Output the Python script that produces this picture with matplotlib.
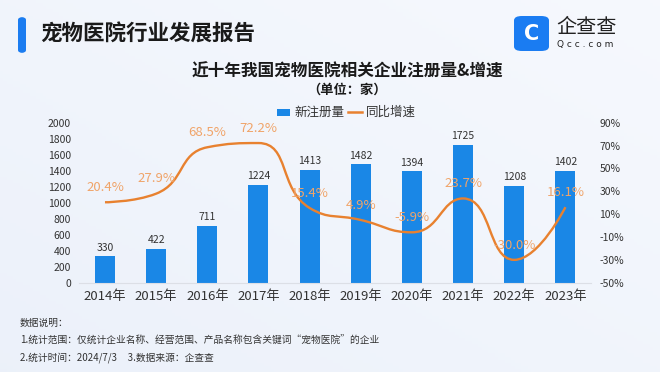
import numpy as np
import matplotlib.pyplot as plt
from matplotlib.path import Path
from matplotlib.patches import PathPatch, FancyBboxPatch, Rectangle
from matplotlib.lines import Line2D

plt.rcParams['font.family'] = ['Noto Sans CJK SC', 'DejaVu Sans']

years = ['2014年', '2015年', '2016年', '2017年', '2018年', '2019年', '2020年', '2021年', '2022年', '2023年']
counts = [330, 422, 711, 1224, 1413, 1482, 1394, 1725, 1208, 1402]
growth = [20.4, 27.9, 68.5, 72.2, 15.4, 4.9, -5.9, 23.7, -30.0, 16.1]

bar_c = '#1a87e6'
line_c = '#e8812f'
lab_c = '#f0a469'
txt_c = '#333333'

fig = plt.figure(figsize=(6.6, 3.72), dpi=100)

# background
bg = fig.add_axes([0, 0, 1, 1], zorder=-10)
gx, gy = np.meshgrid(np.linspace(0, 1, 200), np.linspace(0, 1, 120))
g = 0.5 * gx + 0.5 * gy
c0 = np.array([0.925, 0.945, 0.98])
c1 = np.array([0.965, 0.975, 0.995])
img = c0[None, None, :] * (1 - g[..., None]) + c1[None, None, :] * g[..., None]
bg.imshow(img, extent=[0, 1, 0, 1], aspect='auto', origin='lower')
bg.set_xlim(0, 1)
bg.set_ylim(0, 1)
bg.axis('off')

# header
bg.add_patch(FancyBboxPatch((18 / 660, 1 - 53 / 372), 8 / 660, 36 / 372,
                            boxstyle='round,pad=0,rounding_size=0.008',
                            fc='#1b7cf0', ec='none', transform=fig.transFigure))
fig.text(40 / 660, 1 - 34 / 372, '宠物医院行业发展报告', fontsize=15.5, fontweight='bold',
         color='#1a1a1a', va='center', ha='left')

# logo
bg.add_patch(FancyBboxPatch((514 / 660, 1 - 51 / 372), 35 / 660, 35 / 372,
                            boxstyle='round,pad=0,rounding_size=0.012',
                            fc='#1a7cf2', ec='none', transform=fig.transFigure))
fig.text(531.5 / 660, 1 - 33.5 / 372, 'C', fontsize=15, fontweight='bold', color='white',
         ha='center', va='center', family='DejaVu Sans')
fig.text(556 / 660, 1 - 27 / 372, '企查查', fontsize=14.5, color='#222222', ha='left', va='center')
fig.text(557 / 660, 1 - 45 / 372, 'Q c c . c o m', fontsize=6.5, color='#222222', ha='left', va='center',
         family='DejaVu Sans')

# titles
fig.text(347 / 660, 1 - 72 / 372, '近十年我国宠物医院相关企业注册量&增速', fontsize=12,
         fontweight='bold', color='#1a1a1a', ha='center', va='center')
fig.text(347 / 660, 1 - 90 / 372, '（单位：家）', fontsize=9.5, fontweight='bold',
         color='#1a1a1a', ha='center', va='center')

# legend
fig.patches.append(Rectangle((277 / 660, 1 - 115.5 / 372), 13 / 660, 7 / 372, fc=bar_c, ec='none',
                             transform=fig.transFigure, figure=fig))
fig.text(294 / 660, 1 - 112 / 372, '新注册量', fontsize=9, color=txt_c, ha='left', va='center')
fig.lines.append(Line2D([348 / 660, 362 / 660], [1 - 112 / 372] * 2, color=line_c, lw=1.8,
                        transform=fig.transFigure, figure=fig))
fig.text(366 / 660, 1 - 112 / 372, '同比增速', fontsize=9, color=txt_c, ha='left', va='center')

# main axes
ax = fig.add_axes([79.4 / 660, 1 - 282.7 / 372, (591 - 79.4) / 660, 160 / 372])
ax.patch.set_alpha(0)
x = np.arange(len(years))
ax.bar(x, counts, width=0.39, color=bar_c, zorder=2)
for xi, v in zip(x, counts):
    ax.text(xi, v + 45, str(v), ha='center', va='bottom', fontsize=7.5, color=txt_c)
ax.set_xlim(-0.5, len(years) - 0.5)
ax.set_ylim(0, 2000)
ax.set_yticks(np.arange(0, 2001, 200))
ax.set_xticks(x)
ax.set_xticklabels(years, fontsize=9.5, color=txt_c)
ax.tick_params(axis='y', length=0, labelsize=7.5, labelcolor=txt_c, pad=6)
ax.tick_params(axis='x', length=0, pad=5)
for s in ['top', 'right', 'left']:
    ax.spines[s].set_visible(False)
ax.spines['bottom'].set_color('#dcdfe6')

ax2 = ax.twinx()
ax2.set_ylim(-50, 90)
ax2.set_yticks(np.arange(-50, 91, 20))
ax2.set_yticklabels([f'{t}%' for t in range(-50, 91, 20)])
ax2.tick_params(axis='y', length=0, labelsize=7.5, labelcolor=txt_c, pad=6)
for s in ax2.spines.values():
    s.set_visible(False)

# smooth line, bezier with control points clamped between neighbours
pts = ax2.transData.transform(np.column_stack([x, growth]))
n = len(pts)
sm = 0.5
verts = [pts[0]]
codes = [Path.MOVETO]
cp0 = pts[0].copy()
for i in range(1, n):
    px, py = pts[i - 1]
    X, Y = pts[i]
    if i == n - 1:
        cp1 = pts[i].copy()
        ncp0 = pts[i].copy()
    else:
        nx, ny = pts[i + 1]
        vx, vy = nx - px, ny - py
        lp = np.hypot(X - px, Y - py)
        ln = np.hypot(nx - X, ny - Y)
        r = ln / (ln + lp)
        ncx = X + vx * sm * r
        ncy = Y + vy * sm * r
        ncx = max(min(ncx, max(nx, X)), min(nx, X))
        ncy = max(min(ncy, max(ny, Y)), min(ny, Y))
        vx, vy = ncx - X, ncy - Y
        c1x = X - vx * lp / ln
        c1y = Y - vy * lp / ln
        c1x = max(min(c1x, max(px, X)), min(px, X))
        c1y = max(min(c1y, max(py, Y)), min(py, Y))
        vx, vy = X - c1x, Y - c1y
        ncx = X + vx * ln / lp
        ncy = Y + vy * ln / lp
        cp1 = np.array([c1x, c1y])
        ncp0 = np.array([ncx, ncy])
    verts += [cp0, cp1, pts[i]]
    codes += [Path.CURVE4] * 3
    cp0 = ncp0
verts = ax2.transData.inverted().transform(np.array(verts))
ax2.add_patch(PathPatch(Path(verts, codes), fc='none', ec=line_c, lw=1.7, zorder=3))
for xi, gv in zip(x, growth):
    ax2.annotate(f'{gv:.1f}%', (xi, gv), xytext=(0, 6), textcoords='offset points',
                 ha='center', va='bottom', fontsize=9.5, color=lab_c, zorder=4)

# notes
fig.text(20 / 660, 1 - 323 / 372, '数据说明：', fontsize=7, color=txt_c, ha='left', va='center')
fig.text(20 / 660, 1 - 341 / 372, '1.统计范围：仅统计企业名称、经营范围、产品名称包含关键词“宠物医院”的企业',
         fontsize=7, color=txt_c, ha='left', va='center')
fig.text(20 / 660, 1 - 358 / 372, '2.统计时间：2024/7/3     3.数据来源：企查查', fontsize=7,
         color=txt_c, ha='left', va='center')

fig.savefig('out.png', dpi=100)
